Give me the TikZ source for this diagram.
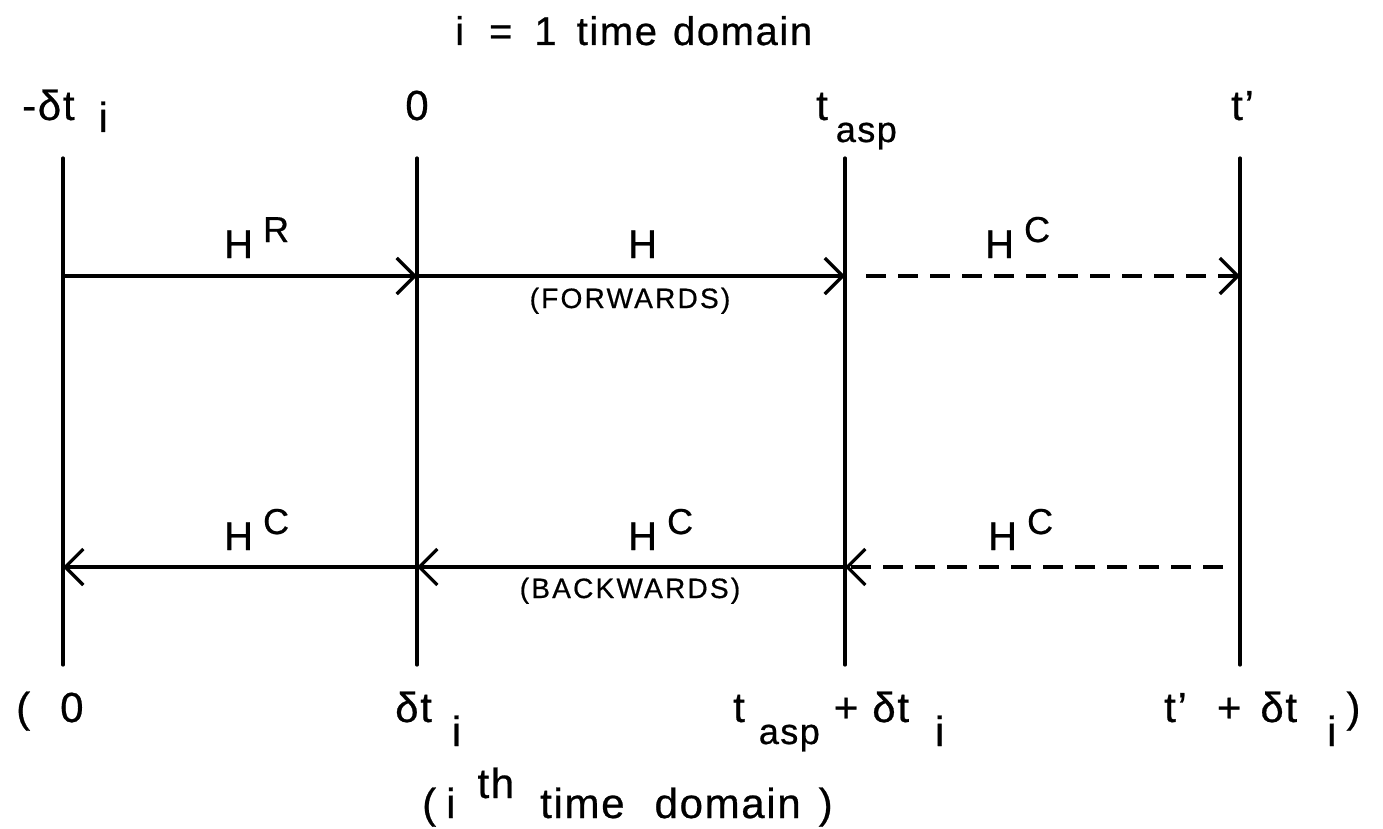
\documentclass[tikz,border=0pt]{standalone}
\usepackage{fontspec}
\setmainfont{Liberation Sans}[LetterSpace=4,FakeBold=0.6]
\usetikzlibrary{arrows.meta}
\newcommand\lsub[1]{\raisebox{-24pt}{#1}}
\newcommand\tsub[1]{\raisebox{-12pt}{#1}}
\newcommand\asub{\raisebox{-22pt}{\fontsize{36}{36}\selectfont asp}}
\newcommand\usup[1]{\raisebox{16pt}{\fontsize{36}{36}\selectfont #1}}
\newcommand\Hsup[1]{H\hspace{10pt}\usup{#1}}
\begin{document}
\begin{tikzpicture}[x=1pt,y=-1pt,
  lbl/.style={inner sep=0pt,anchor=base west,font=\fontsize{42}{42}\selectfont},
  clbl/.style={inner sep=0pt,anchor=base,font=\fontsize{42}{42}\selectfont},
  ttl/.style={inner sep=0pt,anchor=base west,font=\fontsize{40}{40}\selectfont},
  hlbl/.style={inner sep=0pt,anchor=base west,font=\fontsize{40}{40}\selectfont},
  captxt/.style={inner sep=0pt,anchor=base,font=\fontsize{28}{28}\selectfont\addfontfeature{LetterSpace=8}},
  vline/.style={line width=3.2pt,line cap=round},
  harrow/.style={line width=3.2pt,-{Straight Barb[length=18pt,width=36pt]}},
  dsh/.style={dash pattern=on 20pt off 12pt}]
\useasboundingbox (0,0) rectangle (1383,829);
\fill[white] (0,0) rectangle (1383,829);
% line coordinates
\foreach \n/\x in {a/63,b/417,c/845,d/1240}{
  \coordinate (\n-T) at (\x,158);
  \coordinate (\n-B) at (\x,665);
  \coordinate (\n-F) at (\x,276);
  \coordinate (\n-K) at (\x,567);
}
\coordinate (cF2) at (866,276);
\coordinate (dK2) at (1223,567);
% vertical lines
\draw[vline] (a-T) -- (a-B);
\draw[vline] (b-T) -- (b-B);
\draw[vline] (c-T) -- (c-B);
\draw[vline] (d-T) -- (d-B);
% forward arrows
\draw[harrow] (a-F) -- (b-F);
\draw[harrow] (b-F) -- (c-F);
\draw[harrow,dsh] (cF2) -- (d-F);
% backward arrows
\draw[harrow] (b-K) -- (a-K);
\draw[harrow] (c-K) -- (b-K);
\draw[harrow,dsh] (dK2) -- (c-K);
% title
\node[ttl] (title) at (455,45) {i\hspace{25pt}=\hspace{22pt}1\hspace{20pt}time\hspace{16pt}domain};
% top labels
\node[lbl] (l1) at (22,120) {-δt\hspace{24pt}\tsub{i}};
\node[clbl] (l2) at (417,120) {0};
\node[lbl] (l3) at (816,120) {t\hspace{8pt}\asub};
\node[lbl] (l4) at (1231,120) {t'};
% forward labels
\node[hlbl] (hR) at (224,258) {\Hsup{R}};
\node[hlbl] (hF) at (628,258) {H};
\node[hlbl] (hC1) at (985,258) {\Hsup{C}};
\node[captxt] (fw) at (630,308) {(FORWARDS)};
% backward labels
\node[hlbl] (hC2) at (224,550) {\Hsup{C}};
\node[hlbl] (hC3) at (628,550) {\Hsup{C}};
\node[hlbl] (hC4) at (988,550) {\Hsup{C}};
\node[captxt] (bw) at (630,598) {(BACKWARDS)};
% bottom labels
\node[lbl] (b1) at (16,722) {(\hspace{30pt}0};
\node[lbl] (b2) at (395,722) {δt\hspace{20pt}\lsub{i}};
\node[lbl] (b3) at (733,722) {t\hspace{14pt}\asub\hspace{14pt}+\hspace{14pt}δt\hspace{26pt}\lsub{i}};
\node[lbl] (b4) at (1164,722) {t'\hspace{30pt}+\hspace{19pt}δt\hspace{30pt}\lsub{i}\hspace{10pt})};
% bottom title
\node[lbl] (bt) at (422,818) {(\hspace{10pt}i\hspace{22pt}\raisebox{20pt}{th}\hspace{26pt}time\hspace{30pt}domain\hspace{18pt})};
\end{tikzpicture}
\end{document}
